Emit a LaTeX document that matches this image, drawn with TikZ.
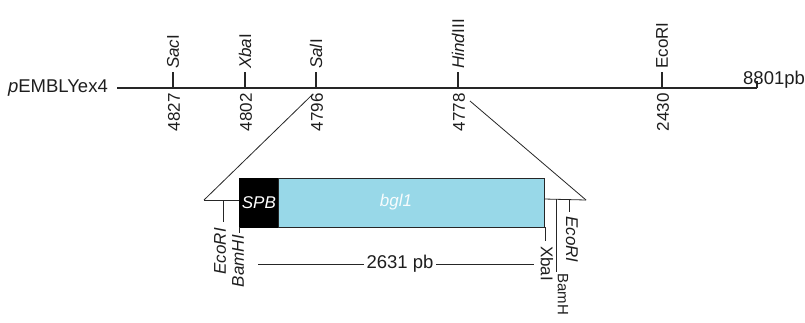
\documentclass[tikz,border=0pt]{standalone}
\usepackage{fontspec}
\setmainfont{Liberation Sans}
\definecolor{geneblue}{RGB}{152,216,232}
\definecolor{labtext}{RGB}{30,30,30}
\begin{document}
\begin{tikzpicture}[x=1pt,y=-1pt,
  lab/.style={font=\fontsize{17}{19}\selectfont, text=labtext, inner sep=1pt},
  hlab/.style={font=\fontsize{18.5}{20}\selectfont, text=labtext, inner sep=1pt},
  upl/.style={lab, rotate=90, anchor=west},
  dnl/.style={lab, rotate=90, anchor=east},
  dnr/.style={lab, rotate=-90, anchor=west},
  mainline/.style={line width=1.6pt, draw=black!85},
  thin/.style={line width=0.8pt, draw=black!85},
  tick/.style={line width=1.3pt, draw=black!85}]
\useasboundingbox (0,0) rectangle (805,322);
% main line
\coordinate (L0) at (117,88);
\coordinate (L1) at (757,88);
\coordinate (Lend) at (757,81);
\draw[mainline] (L0) -- (L1);
\draw[tick] (L1) -- (Lend);
\node[hlab, anchor=east] (name) at (109,88) {\textit{p}EMBLYex4};
\node[hlab, anchor=base west] (len) at (742,84) {8801pb};
% sites
\foreach \n/\x/\lbl/\num in {sac/173/\textit{Sac}I/4827, xba/245/\textit{Xba}I/4802, sal/316/\textit{Sal}I/4796, hind/458/\textit{Hind}III/4778, eco/662/EcoRI/2430}{
  \coordinate (\n b) at (\x,88);
  \coordinate (\n t) at (\x,72);
  \draw[tick] (\n b) -- (\n t);
  \node[upl] (\n lab) at (\x,70) {\lbl};
  \node[dnl] (\n num) at (\x+1,92) {\num};
}
% insert triangle
\coordinate (tl0) at (313,94);
\coordinate (tl1) at (204,200);
\coordinate (tr0) at (470,101);
\coordinate (tr1) at (586,200);
\draw[thin] (tl0) -- (tl1);
\draw[thin] (tr0) -- (tr1);
% box
\node[draw=black, line width=0.8pt, fill=black, minimum width=39pt, minimum height=49pt, anchor=north west, inner sep=0pt] (spb) at (239,178) {};
\node[draw=black!85, line width=0.8pt, fill=geneblue, minimum width=266pt, minimum height=49pt, anchor=north west, inner sep=0pt] (bgl) at (278,178) {};
\node[lab, text=white] at (spb.center) (spbt) {\textit{SPB}};
\node[lab, text=white!93!geneblue] at (396,202) (bglt) {\textit{bgl1}};
% left flank
\coordinate (lb1) at (239,200);
\draw[thin] (tl1) -- (lb1);
\coordinate (le0) at (223,200);
\coordinate (le1) at (223,222);
\draw[thin] (le0) -- (le1);
\coordinate (lbam0) at (239,227);
\coordinate (lbam1) at (239,233);
\draw[thin] (lbam0) -- (lbam1);
\node[dnl] (ecoL) at (220,227) {\textit{EcoRI}};
\node[dnl] (bamL) at (238,234) {\textit{BamHI}};
% right flank
\coordinate (rb0) at (544,199);
\draw[thin] (rb0) -- (tr1);
\coordinate (rx0) at (545,227);
\coordinate (rx1) at (545,241);
\draw[thin] (rx0) -- (rx1);
\coordinate (rbam0) at (556,199);
\coordinate (rbam1) at (556,272);
\draw[thin] (rbam0) -- (rbam1);
\coordinate (re0) at (569,199);
\coordinate (re1) at (569,212);
\draw[thin] (re0) -- (re1);
\node[dnr] (xbaR) at (547,245) {XbaI};
\node[dnr] (ecoR) at (572,215) {\textit{EcoRI}};
\node[dnr, font=\fontsize{15}{17}\selectfont] (bamR) at (563,272) {BamH};
% size bar
\coordinate (s0) at (258,264);
\coordinate (s1) at (534,264);
\draw[thin] (s0) -- (s1);
\node[hlab, fill=white, inner xsep=3pt] (size) at (400,264) {2631 pb};
\end{tikzpicture}
\end{document}
